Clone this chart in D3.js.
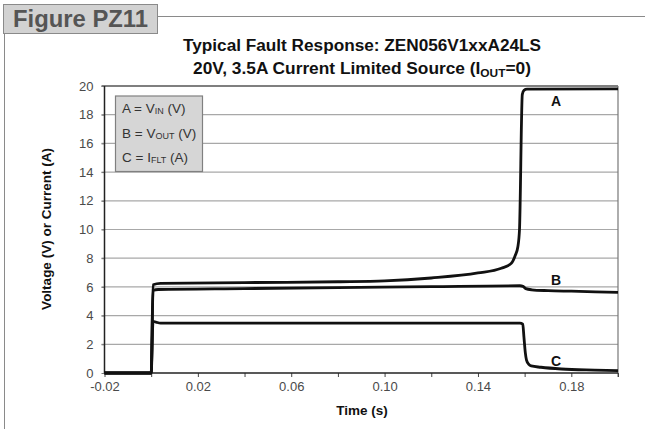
<!DOCTYPE html>
<html>
<head>
<meta charset="utf-8">
<script src="https://cdn.jsdelivr.net/npm/d3@7"></script>
<style>
  html, body { margin: 0; padding: 0; background: #fff; }
  svg { display: block; font-family: "Liberation Sans", Arial, sans-serif; }
</style>
</head>
<body>
<svg id="chart" width="645" height="429"></svg>
<script>
// ---- data ----
const timeA = [-0.02, 0, 0.0008, 0.004, 0.04, 0.08, 0.10, 0.12, 0.14, 0.15, 0.1543, 0.156, 0.1571, 0.1578, 0.159, 0.1597, 0.161, 0.20];
const vinA  = [0, 0, 6.15, 6.25, 6.3, 6.36, 6.42, 6.62, 6.97, 7.3, 7.64, 8.2, 8.8, 10, 19.4, 19.7, 19.78, 19.8];

const timeB = [-0.02, 0, 0.0008, 0.003, 0.04, 0.08, 0.12, 0.158, 0.1593, 0.1605, 0.163, 0.17, 0.18, 0.20];
const voutB = [0, 0, 5.75, 5.82, 5.88, 5.95, 6.02, 6.08, 6.04, 5.88, 5.8, 5.74, 5.7, 5.62];

const timeC = [-0.02, 0, 0.0008, 0.002, 0.004, 0.158, 0.1592, 0.1597, 0.1603, 0.1608, 0.1618, 0.1628, 0.167, 0.1757, 0.19, 0.20];
const ifltC = [0, 0, 3.6, 3.55, 3.47, 3.47, 3.4, 2.5, 1.4, 0.9, 0.6, 0.49, 0.4, 0.28, 0.2, 0.16];

const xTicks = [-0.02, 0, 0.02, 0.04, 0.06, 0.08, 0.10, 0.12, 0.14, 0.16, 0.18, 0.20];
const xTickLabels = ["-0.02", "", "0.02", "", "0.06", "", "0.10", "", "0.14", "", "0.18", ""];
const yTicks = [0, 2, 4, 6, 8, 10, 12, 14, 16, 18, 20];

const seriesNames = ["A", "B", "C"];
const seriesLabelAt = [[0.1735, 18.6], [0.1735, 6.15], [0.1735, 0.5]];

// ---- chart ----
const svg = d3.select("#chart");
const x = d3.scaleLinear().domain([-0.02, 0.20]).range([104.5, 618]);
const y = d3.scaleLinear().domain([0, 20]).range([373, 86]);

// frame
svg.append("line").attr("x1", 158).attr("x2", 645).attr("y1", 16.5).attr("y2", 16.5)
  .attr("stroke", "#8a8a8a").attr("stroke-width", 1);
svg.append("line").attr("x1", 4.5).attr("x2", 4.5).attr("y1", 33).attr("y2", 429)
  .attr("stroke", "#8a8a8a").attr("stroke-width", 1);
svg.append("rect").attr("x", 3.5).attr("y", 4.5).attr("width", 154).attr("height", 29)
  .attr("fill", "#d2d2d2").attr("stroke", "#8a8a8a").attr("stroke-width", 1);
svg.append("text").attr("x", 13).attr("y", 27).attr("font-size", 24).attr("font-weight", "bold")
  .attr("fill", "#555").attr("textLength", 135).attr("lengthAdjust", "spacingAndGlyphs")
  .text("Figure PZ11");

// title
svg.append("text").attr("x", 362).attr("y", 51).attr("text-anchor", "middle")
  .attr("font-size", 16).attr("font-weight", "bold").attr("fill", "#111")
  .attr("textLength", 358).attr("lengthAdjust", "spacingAndGlyphs")
  .text("Typical Fault Response: ZEN056V1xxA24LS");
const t2 = svg.append("text").attr("x", 362).attr("y", 74).attr("text-anchor", "middle")
  .attr("font-size", 16).attr("font-weight", "bold").attr("fill", "#111")
  .attr("textLength", 338).attr("lengthAdjust", "spacingAndGlyphs");
t2.append("tspan").text("20V, 3.5A Current Limited Source (I");
t2.append("tspan").attr("font-size", 11).attr("dy", 3).text("OUT");
t2.append("tspan").attr("dy", -3).text("=0)");

// grid
svg.append("g").selectAll("line").data(yTicks.filter(d => d > 0 && d < 20)).join("line")
  .attr("x1", x(-0.02) - 3).attr("x2", x(0.20))
  .attr("y1", d => y(d)).attr("y2", d => y(d))
  .attr("stroke", "#a8a8a8").attr("stroke-width", 1.2);

// top & right border
svg.append("line").attr("x1", x(-0.02) - 3).attr("x2", x(0.20)).attr("y1", y(20)).attr("y2", y(20))
  .attr("stroke", "#555").attr("stroke-width", 1.3);
svg.append("line").attr("x1", x(0.20)).attr("x2", x(0.20)).attr("y1", y(20)).attr("y2", y(0) + 4)
  .attr("stroke", "#777").attr("stroke-width", 1.2);

// axes
const xAxis = d3.axisBottom(x).tickValues(xTicks).tickSize(4).tickPadding(5)
  .tickFormat((d, i) => xTickLabels[i]);
const gx = svg.append("g").attr("transform", `translate(0,${y(0)})`).call(xAxis);
gx.select(".domain").remove();
gx.selectAll(".tick line").attr("stroke", "#444");
gx.selectAll("text").attr("font-size", 13).attr("fill", "#4a4a4a")
  .attr("font-family", "'Liberation Sans', Arial, sans-serif");

const yAxis = d3.axisLeft(y).tickValues(yTicks).tickSize(3).tickPadding(8).tickFormat(d3.format("d"));
const gy = svg.append("g").attr("transform", `translate(${x(-0.02)},0)`).call(yAxis);
gy.select(".domain").remove();
gy.selectAll(".tick line").attr("stroke", "#777");
gy.selectAll("text").attr("font-size", 13).attr("fill", "#4a4a4a")
  .attr("font-family", "'Liberation Sans', Arial, sans-serif");

svg.append("line").attr("x1", x(-0.02)).attr("x2", x(-0.02)).attr("y1", y(20)).attr("y2", y(0))
  .attr("stroke", "#222").attr("stroke-width", 1.5);
svg.append("line").attr("x1", x(-0.02)).attr("x2", x(0.20)).attr("y1", y(0)).attr("y2", y(0))
  .attr("stroke", "#222").attr("stroke-width", 1.5);

// axis titles
svg.append("text").attr("x", 362).attr("y", 415).attr("text-anchor", "middle")
  .attr("font-size", 13.5).attr("font-weight", "bold").attr("fill", "#111").text("Time (s)");
svg.append("text").attr("transform", "translate(51,229) rotate(-90)").attr("text-anchor", "middle")
  .attr("font-size", 13.5).attr("font-weight", "bold").attr("fill", "#111")
  .text("Voltage (V) or Current (A)");

// series
const line = d3.line().x(d => x(d[0])).y(d => y(d[1])).curve(d3.curveMonotoneX);
const series = [
  d3.zip(timeA, vinA),
  d3.zip(timeB, voutB),
  d3.zip(timeC, ifltC)
];
svg.append("g").selectAll("path").data(series).join("path")
  .attr("d", line).attr("fill", "none").attr("stroke", "#111")
  .attr("stroke-width", 2.8).attr("stroke-linejoin", "round");

// series labels
svg.append("g").selectAll("text").data(seriesNames).join("text")
  .attr("x", (d, i) => x(seriesLabelAt[i][0]))
  .attr("y", (d, i) => y(seriesLabelAt[i][1]))
  .attr("text-anchor", "middle").attr("font-size", 14).attr("font-weight", "bold").attr("fill", "#111")
  .text(d => d);

// legend
const lg = svg.append("g");
lg.append("rect").attr("x", 115.5).attr("y", 96).attr("width", 87).attr("height", 75.5)
  .attr("fill", "#d6d6d6").attr("stroke", "#808080").attr("stroke-width", 1.2);
const legendRows = [["A = V", "IN", " (V)"], ["B = V", "OUT", " (V)"], ["C = I", "FLT", " (A)"]];
legendRows.forEach((r, i) => {
  const t = lg.append("text").attr("x", 122).attr("y", 113 + i * 24.5)
    .attr("font-size", 13.5).attr("fill", "#333");
  t.append("tspan").text(r[0]);
  t.append("tspan").attr("font-size", 9).attr("dy", 1).text(r[1]);
  t.append("tspan").attr("dy", -1).text(r[2]);
});
</script>
</body>
</html>
